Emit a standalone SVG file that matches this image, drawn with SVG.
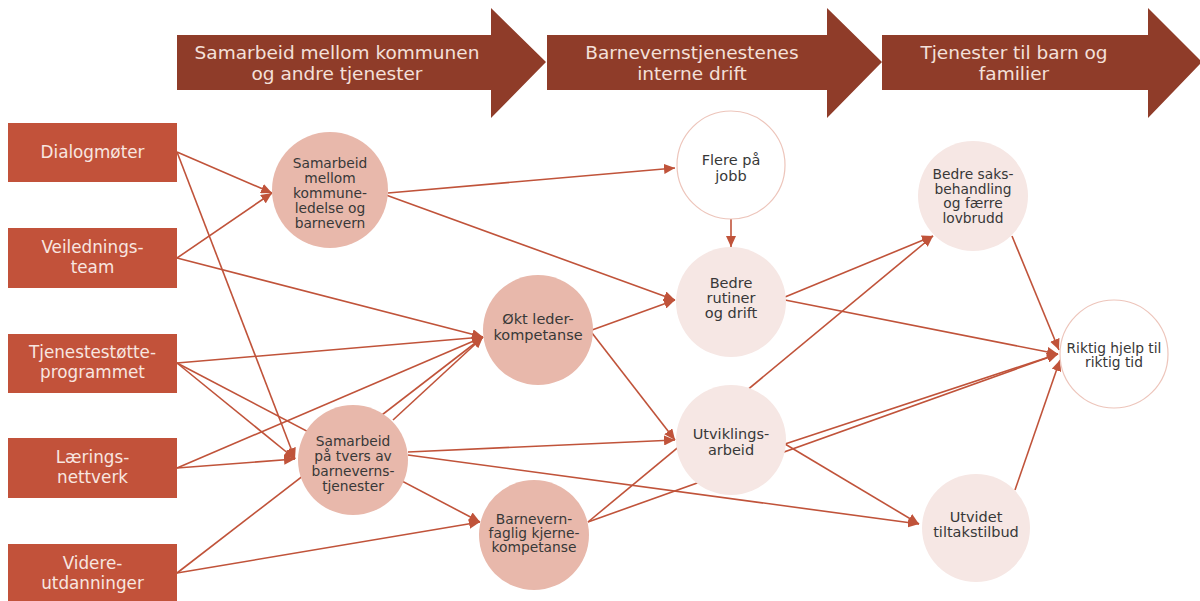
<svg xmlns="http://www.w3.org/2000/svg" width="1200" height="601" viewBox="0 0 1200 601">
<style>
.banner{fill:#8f3c29}
.btxt{fill:#f4e0da;font-family:"DejaVu Sans",sans-serif;font-size:18.5px;text-anchor:middle}
.box{fill:#c2523a}
.boxtxt{fill:#f8e6e0;font-family:"DejaVu Sans",sans-serif;font-size:16.8px;text-anchor:middle}
.dark{fill:#e8b8ab}
.light{fill:#f6e7e4}
.white{fill:#ffffff;stroke:#edc5bb;stroke-width:1.2}
.ctxt{fill:#383838;font-family:"DejaVu Sans",sans-serif;font-size:13.8px;text-anchor:middle}
.ctxt2{fill:#383838;font-family:"DejaVu Sans",sans-serif;font-size:14.5px;text-anchor:middle}
.conn path{fill:none;stroke:#c0533a;stroke-width:1.6;marker-end:url(#ah)}
</style>
<defs>
<marker id="ah" markerUnits="userSpaceOnUse" markerWidth="11" markerHeight="10" refX="11" refY="5" orient="auto">
<path d="M0,0 L11,5 L0,10 z" fill="#c0533a"/>
</marker>
</defs>
<rect width="1200" height="601" fill="#ffffff"/>

<g id="banners">
<g id="banner1">
<polygon class="banner" points="177,35 491,35 491,8 546,62 491,118 491,90 177,90"/>
<text class="btxt" x="337" y="59">Samarbeid mellom kommunen</text>
<text class="btxt" x="337" y="80">og andre tjenester</text>
</g>
<g id="banner2">
<polygon class="banner" points="547,35 827,35 827,8 882,62 827,118 827,90 547,90"/>
<text class="btxt" x="692" y="59">Barnevernstjenestenes</text>
<text class="btxt" x="692" y="80">interne drift</text>
</g>
<g id="banner3">
<polygon class="banner" points="882,35 1148,35 1148,8 1202,62 1148,118 1148,90 882,90"/>
<text class="btxt" x="1014" y="59">Tjenester til barn og</text>
<text class="btxt" x="1014" y="80">familier</text>
</g>
</g>

<g id="connectors" class="conn">
<path d="M177,152 L272,193"/>
<path d="M177,152 L295,459"/>
<path d="M177,258 L272,193"/>
<path d="M177,258 L483,337"/>
<path d="M177,363 L483,337"/>
<path d="M177,363 L295,459"/>
<path d="M177,363 L480,522"/>
<path d="M177,468 L483,337"/>
<path d="M177,468 L295,459"/>
<path d="M177,573 L483,337"/>
<path d="M177,573 L480,522"/>
<path d="M393,420 L483,337"/>
<path d="M388,193 L675,168"/>
<path d="M386,195 L675,300"/>
<path d="M592,330 L675,300"/>
<path d="M592,333 L675,440"/>
<path d="M408,452 L675,440"/>
<path d="M408,455 L919,524"/>
<path d="M731,218 L731,247"/>
<path d="M785,297 L933,236"/>
<path d="M785,300 L1058,354"/>
<path d="M588,522 L933,236"/>
<path d="M588,522 L1058,354"/>
<path d="M785,444 L1058,354"/>
<path d="M785,444 L919,524"/>
<path d="M1012,236 L1059,350"/>
<path d="M1015,490 L1060,360"/>
</g>

<g id="box-dialog">
<rect class="box" x="8" y="123" width="169" height="59"/>
<text class="boxtxt" x="92.5" y="158">Dialogmøter</text>
</g>
<g id="box-veiledning">
<rect class="box" x="8" y="228" width="169" height="60"/>
<text class="boxtxt" x="92.5" y="253">Veilednings-</text>
<text class="boxtxt" x="92.5" y="273">team</text>
</g>
<g id="box-tjenestestotte">
<rect class="box" x="8" y="334" width="169" height="59"/>
<text class="boxtxt" x="92.5" y="358">Tjenestestøtte-</text>
<text class="boxtxt" x="92.5" y="378">programmet</text>
</g>
<g id="box-laering">
<rect class="box" x="8" y="438" width="169" height="60"/>
<text class="boxtxt" x="92.5" y="463">Lærings-</text>
<text class="boxtxt" x="92.5" y="483">nettverk</text>
</g>
<g id="box-videre">
<rect class="box" x="8" y="544" width="169" height="57"/>
<text class="boxtxt" x="92.5" y="569">Videre-</text>
<text class="boxtxt" x="92.5" y="589">utdanninger</text>
</g>

<g id="c-samarbeid-kommune">
<circle class="dark" cx="330" cy="190" r="58"/>
<text class="ctxt" x="330" y="168">Samarbeid</text>
<text class="ctxt" x="330" y="183">mellom</text>
<text class="ctxt" x="330" y="198">kommune-</text>
<text class="ctxt" x="330" y="213">ledelse og</text>
<text class="ctxt" x="330" y="228">barnevern</text>
</g>
<g id="c-samarbeid-tvers">
<circle class="dark" cx="353" cy="460" r="55"/>
<text class="ctxt" x="353" y="446">Samarbeid</text>
<text class="ctxt" x="353" y="461">på tvers av</text>
<text class="ctxt" x="353" y="476">barneverns-</text>
<text class="ctxt" x="353" y="491">tjenester</text>
</g>
<g id="c-leder">
<circle class="dark" cx="538" cy="330" r="55"/>
<text class="ctxt2" x="538" y="324">Økt leder-</text>
<text class="ctxt2" x="538" y="340">kompetanse</text>
</g>
<g id="c-kjerne">
<circle class="dark" cx="534" cy="535" r="55"/>
<text class="ctxt" x="534" y="524">Barnevern-</text>
<text class="ctxt" x="534" y="538">faglig kjerne-</text>
<text class="ctxt" x="534" y="552">kompetanse</text>
</g>
<g id="c-flere">
<circle class="white" cx="731" cy="165" r="54"/>
<text class="ctxt2" x="731" y="165">Flere på</text>
<text class="ctxt2" x="731" y="181">jobb</text>
</g>
<g id="c-rutiner">
<circle class="light" cx="731" cy="302" r="55"/>
<text class="ctxt2" x="731" y="288">Bedre</text>
<text class="ctxt2" x="731" y="303">rutiner</text>
<text class="ctxt2" x="731" y="318">og drift</text>
</g>
<g id="c-utvikling">
<circle class="light" cx="731" cy="440" r="55"/>
<text class="ctxt2" x="731" y="439">Utviklings-</text>
<text class="ctxt2" x="731" y="455">arbeid</text>
</g>
<g id="c-saks">
<circle class="light" cx="973" cy="196" r="55"/>
<text class="ctxt" x="973" y="179">Bedre saks-</text>
<text class="ctxt" x="973" y="194">behandling</text>
<text class="ctxt" x="973" y="208">og færre</text>
<text class="ctxt" x="973" y="223">lovbrudd</text>
</g>
<g id="c-riktig">
<circle class="white" cx="1114" cy="354" r="54"/>
<text class="ctxt" x="1114" y="353">Riktig hjelp til</text>
<text class="ctxt" x="1114" y="367">riktig tid</text>
</g>
<g id="c-tiltak">
<circle class="light" cx="976" cy="528" r="54"/>
<text class="ctxt2" x="976" y="522">Utvidet</text>
<text class="ctxt2" x="976" y="537">tiltakstilbud</text>
</g>
</svg>
